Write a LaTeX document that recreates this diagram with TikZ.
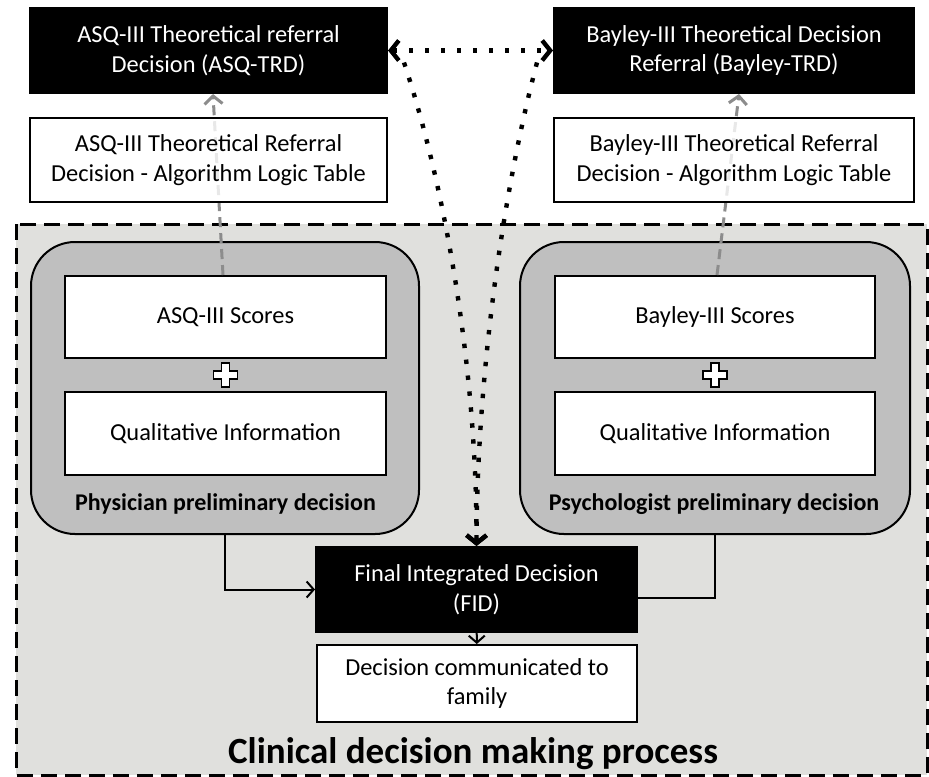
\documentclass[tikz,border=0pt]{standalone}
\usepackage{fontspec}
\setmainfont{Carlito}
\usetikzlibrary{positioning,arrows.meta,calc}
\definecolor{bgtexture}{RGB}{224,224,221}
\definecolor{roundgrey}{RGB}{191,191,191}
\definecolor{arrowgrey}{RGB}{140,140,140}
\newcommand{\plusmark}[1]{\draw[plussign,shift={(#1)}] (-4,-12) -- (4,-12) -- (4,-4) -- (12,-4) -- (12,4) -- (4,4) -- (4,12) -- (-4,12) -- (-4,4) -- (-12,4) -- (-12,-4) -- (-4,-4) -- cycle;}

\begin{document}
\begin{tikzpicture}[x=0.5pt,y=-0.5pt,
  every node/.style={font=\fontsize{12.2}{14.8}\selectfont, align=center},
  blackbox/.style={draw=black, fill=black, text=white, line width=1pt, inner sep=0pt},
  whitebox/.style={draw=black, fill=white, line width=1pt, inner sep=0pt},
  tablebox/.style={whitebox, fill opacity=0.8, text opacity=1},
  roundbox/.style={draw=black, fill=roundgrey, line width=1pt, rounded corners=22pt},
  boldlabel/.style={font=\fontsize{12}{14.5}\selectfont\bfseries},
  greyarrow/.style={draw=arrowgrey, line width=1.5pt, dash pattern=on 5pt off 3pt, -{Straight Barb[length=4pt,width=9pt]}},
  dotline/.style={line width=2.2pt, dash pattern=on 2.2pt off 5.8pt},
  link/.style={line width=1pt},
  plussign/.style={draw=black, fill=white, line width=0.6pt}]
  \useasboundingbox (0,0) rectangle (929,776);

  \draw[fill=bgtexture, line width=1.5pt, dash pattern=on 8pt off 4pt] (16,224) rectangle (927,775);

  \node[blackbox, minimum width=178.5pt, minimum height=42.5pt] (asqtrd) at (208.5,50.5) {ASQ-III Theoretical referral\\Decision (ASQ-TRD)};
  \node[blackbox, minimum width=180pt, minimum height=42.5pt] (baytrd) at (734,50.5) {Bayley-III Theoretical Decision\\Referral (Bayley-TRD)};

  \node[roundbox, minimum width=194pt, minimum height=146pt] (physbox) at (225,388) {};
  \node[roundbox, minimum width=195pt, minimum height=146pt] (psybox) at (715,388) {};
  \node[boldlabel] (phylabel) at (225.5,504) {Physician preliminary decision};
  \node[boldlabel] (psylabel) at (714,504) {Psychologist preliminary decision};

  \node[whitebox, minimum width=160.5pt, minimum height=41pt] (asqscore) at (225.5,317) {ASQ-III Scores};
  \node[whitebox, minimum width=160.5pt, minimum height=41.5pt] (asqqual) at (225.5,433.5) {Qualitative Information};
  \node[whitebox, minimum width=160pt, minimum height=41pt] (bayscore) at (715,317) {Bayley-III Scores};
  \node[whitebox, minimum width=160pt, minimum height=41.5pt] (bayqual) at (715,433.5) {Qualitative Information};
  \plusmark{$(asqscore.south)!0.5!(asqqual.north)$}
  \plusmark{$(bayscore.south)!0.5!(bayqual.north)$}

  \draw[greyarrow] ([xshift=-1.25pt]asqscore.north) -- ([xshift=2.25pt]asqtrd.south);
  \draw[greyarrow] ([xshift=1pt]bayscore.north) -- ([xshift=2.5pt]baytrd.south);

  \node[tablebox, minimum width=178.5pt, minimum height=42pt] (asqtab) at (208.5,160) {ASQ-III Theoretical Referral\\Decision - Algorithm Logic Table};
  \node[tablebox, minimum width=180pt, minimum height=42pt] (baytab) at (734,160) {Bayley-III Theoretical Referral\\Decision - Algorithm Logic Table};

  \node[blackbox, minimum width=160.5pt, minimum height=42.5pt] (fid) at (476.5,589.5) {Final Integrated Decision\\(FID)};
  \node[whitebox, minimum width=160pt, minimum height=38.5pt] (comm) at (477,683.5) {Decision communicated to\\family};
  \node[anchor=base, font=\fontsize{18.5}{22}\selectfont\bfseries] (title) at (473,763) {Clinical decision making process};

  \draw[link, -{Straight Barb[length=3.5pt,width=8pt]}] (physbox.south) |- (fid.west);
  \draw[link] (psybox.south) |- ([yshift=-4.25pt]fid.east);
  \draw[link, -{Straight Barb[length=3.5pt,width=8pt]}] (fid) -- (comm);

  \draw[dotline, {Straight Barb[length=4pt,width=10pt]}-{Straight Barb[length=4pt,width=10pt]}] (asqtrd.east) -- (baytrd.west);
  \draw[dotline, -{Straight Barb[length=4pt,width=10pt]}] ([shift={(8pt,-6pt)}]asqtrd.east) .. controls (448,195) and (477,380) .. (fid.north);
  \draw[dotline, -{Straight Barb[length=4pt,width=10pt]}] ([shift={(-8pt,-6pt)}]baytrd.west) .. controls (502,195) and (477,380) .. (fid.north);
\end{tikzpicture}
\end{document}
